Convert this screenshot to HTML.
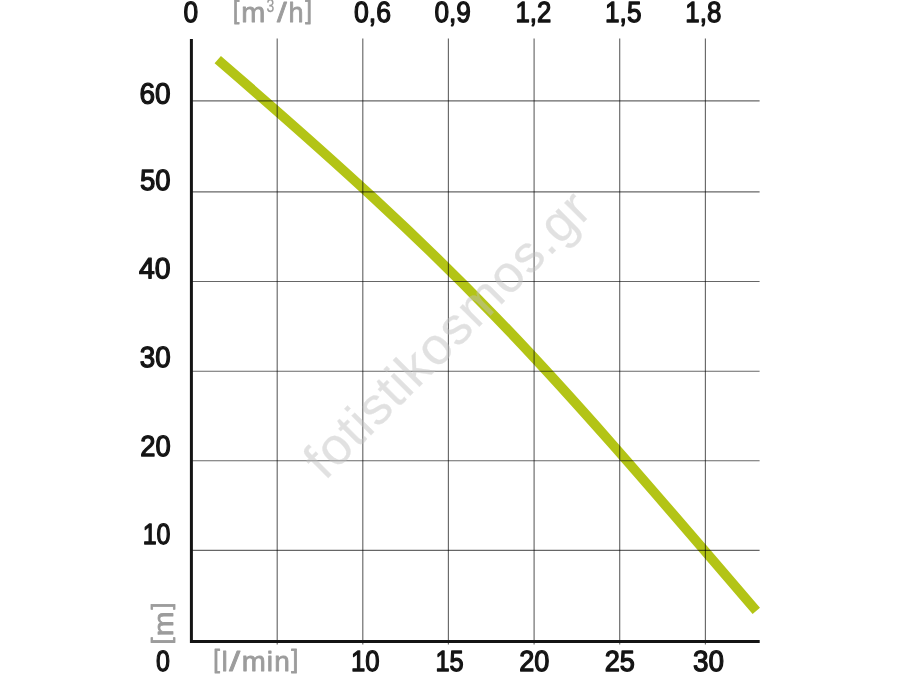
<!DOCTYPE html>
<html lang="en">
<head>
<meta charset="utf-8">
<title>Pump performance curve</title>
<style>
  html, body { margin: 0; padding: 0; background: #ffffff; }
  body { width: 900px; height: 675px; overflow: hidden; }
  svg { display: block; }
  .num  { font-family: "Liberation Sans", sans-serif; font-weight: 400; font-size: 30.4px; fill: #141414; stroke: #141414; stroke-width: 1.35; stroke-linejoin: round; }
  .unit { font-family: "Liberation Sans", sans-serif; font-weight: 400; font-size: 28px; fill: #9c9c9c; stroke: #9c9c9c; stroke-width: 0.8; stroke-linejoin: round; }
  .wm   { font-family: "Liberation Sans", sans-serif; font-weight: 400; font-size: 52px; fill: #c0c0c0; stroke: #c0c0c0; stroke-width: 0.25; opacity: 0.46; }
  .grid line { stroke: #000000; stroke-opacity: 0.6; stroke-width: 1.15; }
  .axis line { stroke: #141414; stroke-width: 3; }
</style>
</head>
<body>
<svg width="900" height="675" viewBox="0 0 900 675">
  <rect x="0" y="0" width="900" height="675" fill="#ffffff"/>

  <!-- grid -->
  <g class="grid">
    <line x1="277.2" y1="38.5" x2="277.2" y2="644.5"/>
    <line x1="362.8" y1="38.5" x2="362.8" y2="644.5"/>
    <line x1="448.4" y1="38.5" x2="448.4" y2="644.5"/>
    <line x1="534.1" y1="38.5" x2="534.1" y2="644.5"/>
    <line x1="619.7" y1="38.5" x2="619.7" y2="644.5"/>
    <line x1="705.4" y1="38.5" x2="705.4" y2="644.5"/>
    <line x1="191" y1="100.9" x2="759.6" y2="100.9"/>
    <line x1="191" y1="191.9" x2="759.6" y2="191.9"/>
    <line x1="191" y1="281.5" x2="759.6" y2="281.5"/>
    <line x1="191" y1="371.2" x2="759.6" y2="371.2"/>
    <line x1="191" y1="460.7" x2="759.6" y2="460.7"/>
    <line x1="191" y1="550.3" x2="759.6" y2="550.3"/>
  </g>

  <!-- performance curve -->
  <path d="M217.75 59.65 C464.84 272.65 532.3 349.3 756.3 610.9" fill="none" stroke="#b3c416" stroke-width="9.7" stroke-linecap="butt" style="mix-blend-mode:multiply"/>

  <!-- axes -->
  <g class="axis">
    <line x1="191.4" y1="38.9" x2="191.4" y2="643"/>
    <line x1="190" y1="641.5" x2="759.7" y2="641.5"/>
  </g>

  <!-- top scale -->
  <g class="num">
    <text id="t0" transform="translate(183.40 21.85) rotate(0.03) scale(1 0.96)" x="0" y="0" textLength="14.62" lengthAdjust="spacingAndGlyphs">0</text>
    <text id="t06" transform="translate(354.03 21.85) rotate(0.03) scale(1 0.96)" x="0" y="0" textLength="36.97" lengthAdjust="spacingAndGlyphs">0,6</text>
    <text id="t09" transform="translate(434.41 21.85) rotate(0.03) scale(1 0.96)" x="0" y="0" textLength="36.36" lengthAdjust="spacingAndGlyphs">0,9</text>
    <text id="t12" transform="translate(515.42 21.85) rotate(0.03) scale(1 0.96)" x="0" y="0" textLength="35.80" lengthAdjust="spacingAndGlyphs">1,2</text>
    <text id="t15" transform="translate(605.07 21.85) rotate(0.03) scale(1 0.96)" x="0" y="0" textLength="36.36" lengthAdjust="spacingAndGlyphs">1,5</text>
    <text id="t18" transform="translate(685.37 21.85) rotate(0.03) scale(1 0.96)" x="0" y="0" textLength="35.96" lengthAdjust="spacingAndGlyphs">1,8</text>
  </g>
  <g class="unit">
    <text id="um3"><tspan x="232.92" y="18.70" font-size="25" textLength="6.31" lengthAdjust="spacingAndGlyphs">[</tspan><tspan x="241.31" y="22.00" font-size="28" textLength="24.06" lengthAdjust="spacingAndGlyphs">m</tspan><tspan x="266.57" y="12.00" font-size="17.5" stroke-width="0.25" textLength="7.76" lengthAdjust="spacingAndGlyphs">3</tspan><tspan x="277.02" y="22.00" font-size="28" textLength="9.75" lengthAdjust="spacingAndGlyphs">/</tspan><tspan x="288.55" y="22.00" font-size="28" textLength="15.03" lengthAdjust="spacingAndGlyphs">h</tspan><tspan x="305.19" y="18.70" font-size="25" textLength="6.70" lengthAdjust="spacingAndGlyphs">]</tspan></text>
  </g>

  <!-- left scale -->
  <g class="num">
    <text id="l60" transform="translate(139.39 103.6) rotate(0.03) scale(1 0.96)" x="0" y="0" textLength="31.09" lengthAdjust="spacingAndGlyphs">60</text>
    <text id="l50" transform="translate(140.03 189.65) rotate(0.03) scale(1 0.96)" x="0" y="0" textLength="30.58" lengthAdjust="spacingAndGlyphs">50</text>
    <text id="l40" transform="translate(139.07 278.3) rotate(0.03) scale(1 0.96)" x="0" y="0" textLength="31.56" lengthAdjust="spacingAndGlyphs">40</text>
    <text id="l30" transform="translate(139.70 366.95) rotate(0.03) scale(1 0.96)" x="0" y="0" textLength="30.91" lengthAdjust="spacingAndGlyphs">30</text>
    <text id="l20" transform="translate(140.17 455.55) rotate(0.03) scale(1 0.96)" x="0" y="0" textLength="30.43" lengthAdjust="spacingAndGlyphs">20</text>
    <text id="l10" transform="translate(142.66 544.15) rotate(0.03) scale(1 0.96)" x="0" y="0" textLength="27.83" lengthAdjust="spacingAndGlyphs">10</text>
  </g>
  <g class="unit" transform="translate(173.2 0) rotate(-90)">
    <text id="um"><tspan x="-644.30" y="-2.80" font-size="25" textLength="6.90" lengthAdjust="spacingAndGlyphs">[</tspan><tspan x="-636.23" y="0.00" font-size="28" textLength="24.74" lengthAdjust="spacingAndGlyphs">m</tspan><tspan x="-609.60" y="-2.80" font-size="25" textLength="6.94" lengthAdjust="spacingAndGlyphs">]</tspan></text>
  </g>

  <!-- bottom scale -->
  <g class="num">
    <text id="b0" transform="translate(156.03 671.1) rotate(0.03) scale(1 0.96)" x="0" y="0" textLength="13.91" lengthAdjust="spacingAndGlyphs">0</text>
    <text id="b10" transform="translate(350.97 671.1) rotate(0.03) scale(1 0.96)" x="0" y="0" textLength="28.64" lengthAdjust="spacingAndGlyphs">10</text>
    <text id="b15" transform="translate(435.45 671.1) rotate(0.03) scale(1 0.96)" x="0" y="0" textLength="28.21" lengthAdjust="spacingAndGlyphs">15</text>
    <text id="b20" transform="translate(519.22 671.1) rotate(0.03) scale(1 0.96)" x="0" y="0" textLength="30.18" lengthAdjust="spacingAndGlyphs">20</text>
    <text id="b25" transform="translate(604.71 671.1) rotate(0.03) scale(1 0.96)" x="0" y="0" textLength="30.16" lengthAdjust="spacingAndGlyphs">25</text>
    <text id="b30" transform="translate(692.89 671.1) rotate(0.03) scale(1 0.96)" x="0" y="0" textLength="31.00" lengthAdjust="spacingAndGlyphs">30</text>
  </g>
  <g class="unit">
    <text id="ulm"><tspan x="213.15" y="667.70" font-size="25" textLength="6.66" lengthAdjust="spacingAndGlyphs">[</tspan><tspan x="221.54" y="671.00" font-size="28" textLength="6.29" lengthAdjust="spacingAndGlyphs">l</tspan><tspan x="229.26" y="671.00" font-size="28" textLength="10.87" lengthAdjust="spacingAndGlyphs">/</tspan><tspan x="241.81" y="671.00" font-size="28" textLength="24.06" lengthAdjust="spacingAndGlyphs">m</tspan><tspan x="266.87" y="671.00" font-size="28" textLength="6.27" lengthAdjust="spacingAndGlyphs">i</tspan><tspan x="274.15" y="671.00" font-size="28" textLength="15.58" lengthAdjust="spacingAndGlyphs">n</tspan><tspan x="291.30" y="667.70" font-size="25" textLength="7.06" lengthAdjust="spacingAndGlyphs">]</tspan></text>
  </g>

  <!-- watermark -->
  <text id="wm" class="wm" transform="translate(324.9 481.2) rotate(-45)" textLength="380" lengthAdjust="spacing">fotistikosmos.gr</text>
</svg>
</body>
</html>
